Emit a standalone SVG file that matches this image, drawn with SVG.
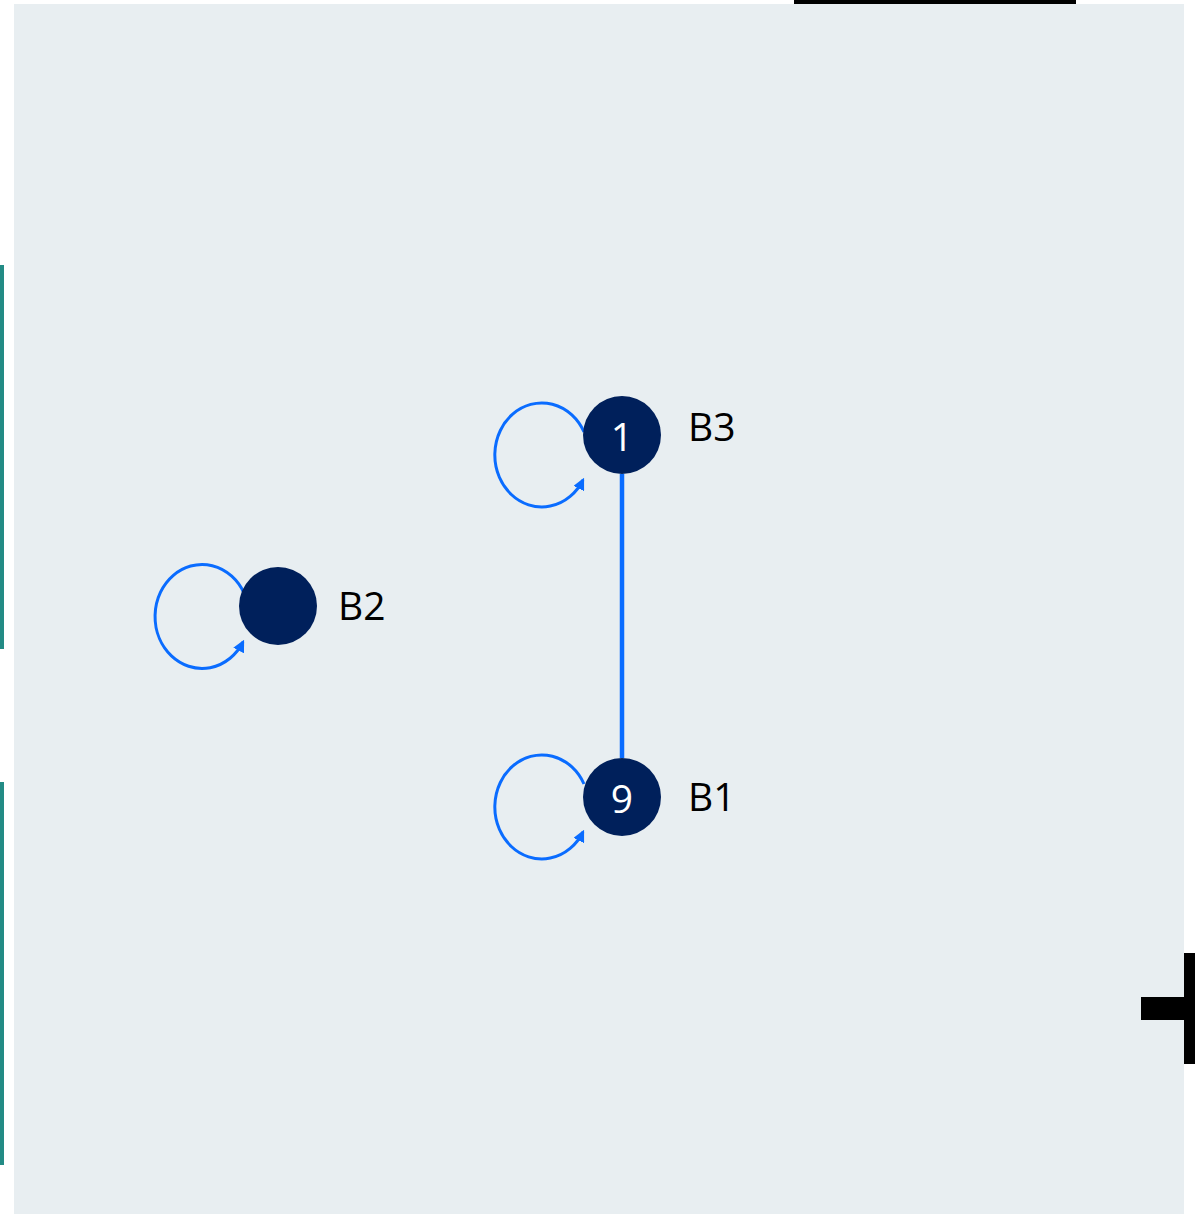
<svg xmlns="http://www.w3.org/2000/svg" width="1195" height="1214" viewBox="0 0 1195 1214">
<style>
.node{fill:#00205b}
.num{font-family:"Open Sans","Noto Sans",sans-serif;font-size:39px;fill:#ffffff;text-anchor:middle}
.lbl{font-family:"Open Sans","Noto Sans",sans-serif;font-size:39px;fill:#000000}
.edge{stroke:#0a6cff;stroke-width:4.5;fill:none}
.loop{stroke:#0a6cff;stroke-width:3;fill:none;marker-end:url(#arr)}
</style>
<defs>
<marker id="arr" viewBox="0 0 10 10" refX="8" refY="5" markerWidth="4" markerHeight="4" orient="auto" markerUnits="strokeWidth">
<path d="M0,0 L10,5 L0,10 Z" fill="#0a6cff"/>
</marker>
</defs>
<rect x="14" y="4" width="1170" height="1210" fill="#e8eef1"/>
<rect x="794" y="0" width="282" height="4" fill="#000"/>
<rect x="0" y="265" width="4" height="384" fill="#238b85"/>
<rect x="0" y="782" width="4" height="383" fill="#238b85"/>
<rect x="1184" y="953" width="11" height="111" fill="#000"/>
<rect x="1141" y="997" width="54" height="23" fill="#000"/>
<g id="connectors">
<line class="edge" x1="622" y1="474" x2="622" y2="758"/>
<path class="loop" d="M584,432 A47 52 0 1 0 583,480"/>
<path class="loop" d="M244,593 A47 52 0 1 0 243,642"/>
<path class="loop" d="M584,784 A47 52 0 1 0 583,832"/>
</g>
<g id="B3">
<circle class="node" cx="622" cy="435" r="39"/>
<text class="num" x="622" y="451">1</text>
<text class="lbl" x="688" y="441">B3</text>
</g>
<g id="B2">
<circle class="node" cx="278" cy="606" r="39"/>
<text class="lbl" x="338" y="620">B2</text>
</g>
<g id="B1">
<circle class="node" cx="622" cy="797" r="39"/>
<text class="num" x="622" y="813">9</text>
<text class="lbl" x="688" y="811">B1</text>
</g>
</svg>
